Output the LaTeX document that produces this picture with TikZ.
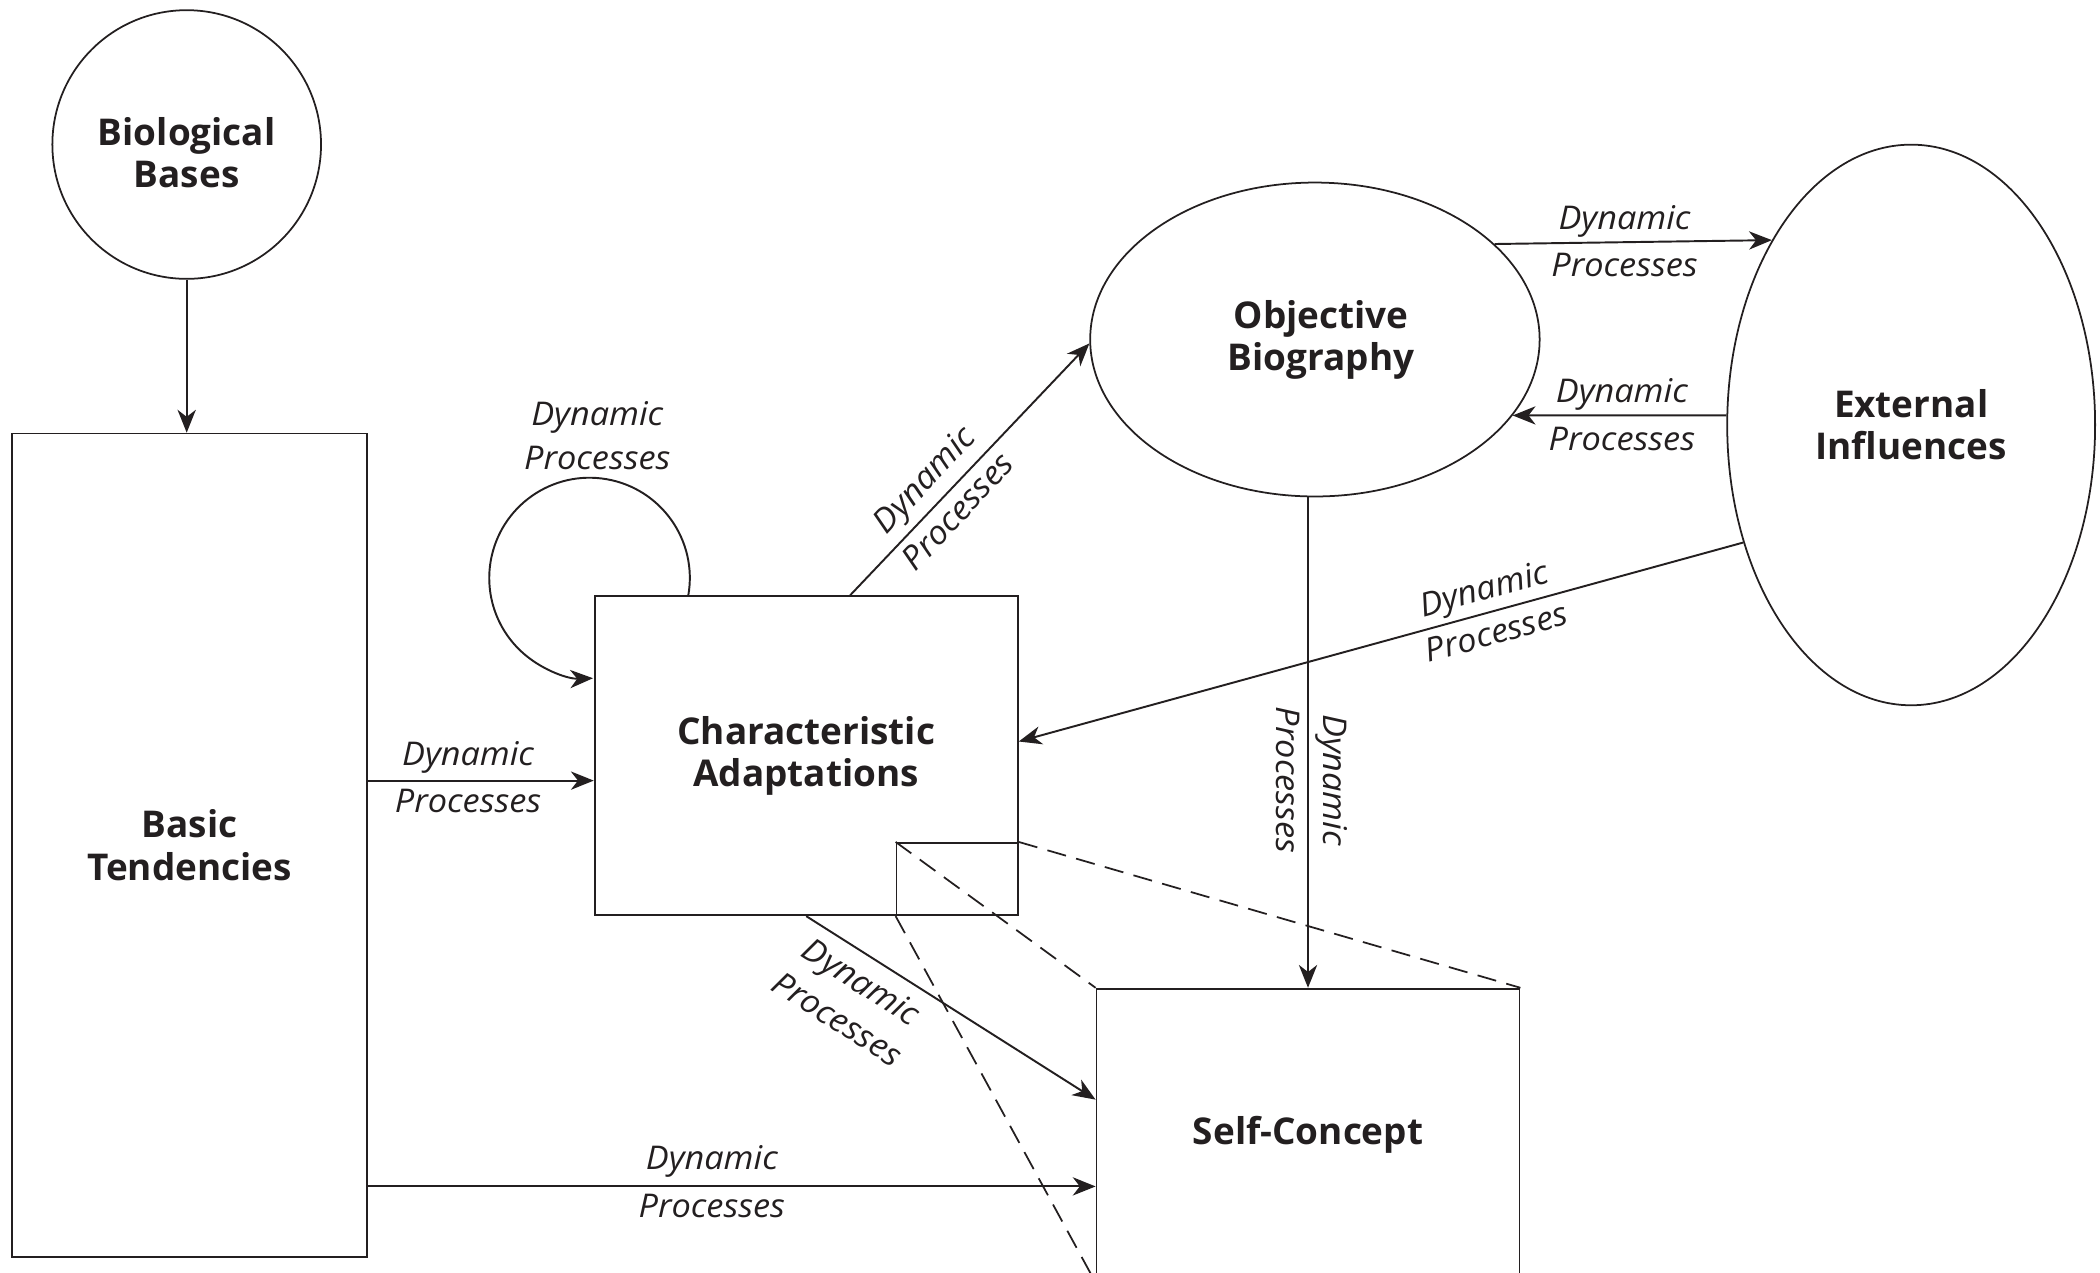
\documentclass[tikz,border=0pt]{standalone}
\usepackage{fontspec}
\setmainfont{Open Sans}
\newfontfamily\labfont[FakeStretch=1.05]{Open Sans}
\usetikzlibrary{shapes.geometric,arrows.meta,calc}
\definecolor{ink}{HTML}{231F20}
\def\du{0.0133929cm}
\tikzset{
  shp/.style={draw=ink, line width=0.5pt, inner sep=0pt, align=center, text=ink,
              font=\bfseries\fontsize{10.5}{12}\selectfont},
  circshape/.style={shp, circle},
  ellshape/.style={shp, ellipse},
  bold/.style={inner sep=0pt, align=center, text=ink, font=\bfseries\fontsize{10.5}{12}\selectfont},
  lab/.style={inner sep=0pt, anchor=base, text=ink, font=\labfont\itshape\fontsize{9.3}{10}\selectfont},
  arr/.style={draw=ink, line width=0.55pt, -{Stealth[length=6.5pt,width=5.2pt,inset=2pt]}},
  dsh/.style={draw=ink, line width=0.5pt, dash pattern=on 5.5pt off 3pt},
}
\begin{document}
\begin{tikzpicture}[x=0.0133929cm, y=0.0133929cm]
\useasboundingbox (0,0) rectangle (1568,-950.5);

% shapes
\node[circshape, minimum size={200.6*\du}] (BB) at (139.4,-107.9) {};
\node[bold] (BBt) at (139.4,-114.0) {Biological\\Bases};
\node[shp, rectangle, minimum width={265*\du}, minimum height={614.8*\du}] (BT) at (141.5,-631.1) {Basic\\Tendencies};
\node[shp, rectangle, minimum width={316*\du}, minimum height={238.3*\du}] (CA) at (602,-564.25) {Characteristic\\Adaptations};
\node[shp, rectangle, minimum width={90.6*\du}, minimum height={54.1*\du}] (sq) at (714.7,-656.35) {};
\node[shp, rectangle, minimum width={315.9*\du}, minimum height={218.8*\du}] (SC) at (976.65,-847.6) {Self-Concept};
\node[ellshape, minimum width={335.6*\du}, minimum height={234.4*\du}] (OB) at (981.8,-253.5) {};
\node[bold] (OBt) at (986.5,-253.5) {Objective\\Biography};
\node[ellshape, minimum width={274.7*\du}, minimum height={418.6*\du}] (EI) at (1427,-317.3) {External\\Influences};

% dashed zoom lines
\draw[dsh] (sq.north west) -- (SC.north west);
\draw[dsh] (sq.north east) -- (SC.north east);
\draw[dsh] (sq.south west) -- (SC.south west);

% connectors
\draw[arr] (BB.south) -- (BB.south |- BT.north);
\coordinate (c1) at ($(CA.west)+(0,-18.6)$);
\draw[arr] (BT.east |- c1) -- (c1);
\coordinate (c2) at ($(SC.north west)+(0,-148.3)$);
\draw[arr] (BT.east |- c2) -- (c2);
\coordinate (c3) at ($(CA.north)+(32.8,0)$);
\draw[arr] (c3) -- (OB.181.5);
\coordinate (c4) at ($(SC.north west)+(0,-83.5)$);
\draw[arr] (CA.south) -- (c4);
\draw[arr] (OB.28.54) -- (EI.127.6);
\draw[arr] (EI.177.46) -- (OB.-21.56);
\coordinate (c5) at ($(CA.east)+(0,10.6)$);
\draw[arr] (EI.215) -- (c5);
\draw[arr] (SC.north |- OB.south) -- (SC.north);
\coordinate (c6) at ($(CA.north west)+(70.6,0)$);
\draw[arr] (c6) arc[start angle=-9.9, end angle=272, radius=1.0031cm];

% labels
\node[lab] (l1a) at (446,-318) {Dynamic};
\node[lab] (l1b) at (446,-350.5) {Processes};
\node[lab] (l2a) at (349.5,-571.3) {Dynamic};
\node[lab] (l2b) at (349.5,-606.7) {Processes};
\node[lab] (l3a) at (531.5,-873.5) {Dynamic};
\node[lab] (l3b) at (531.5,-909) {Processes};
\node[lab] (l4a) at (1213,-171) {Dynamic};
\node[lab] (l4b) at (1213,-206.5) {Processes};
\node[lab] (l5a) at (1211,-300.5) {Dynamic};
\node[lab] (l5b) at (1211,-336) {Processes};
\node[lab, rotate=47] (l6a) at (695.7,-363.7) {Dynamic};
\node[lab, rotate=47] (l6b) at (721.2,-387.6) {Processes};
\node[lab, rotate=-32.7] (l7a) at (638.6,-740.2) {Dynamic};
\node[lab, rotate=-32.7] (l7b) at (620.8,-768) {Processes};
\node[lab, rotate=-90] (l8a) at (988,-582.5) {Dynamic};
\node[lab, rotate=-90] (l8b) at (953,-582.5) {Processes};
\node[lab, rotate=15.5] (l9a) at (1110.3,-447.6) {Dynamic};
\node[lab, rotate=15.5] (l9b) at (1119.4,-480.3) {Processes};
\end{tikzpicture}
\end{document}
